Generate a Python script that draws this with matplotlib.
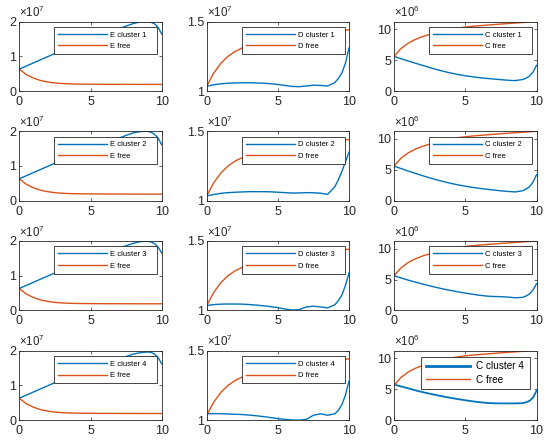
import matplotlib
matplotlib.use('Agg')
import matplotlib.pyplot as plt
from matplotlib.ticker import ScalarFormatter

plt.rcParams['font.family'] = ['Liberation Sans', 'DejaVu Sans']
plt.rcParams['mathtext.fontset'] = 'custom'
plt.rcParams['mathtext.rm'] = 'Liberation Sans'

# time points (same for every panel)
t = [0, 0.5, 1, 1.5, 2, 2.5, 3, 3.5, 4, 4.5, 5, 5.5, 6, 6.5, 7, 7.5, 8, 8.5,
     9, 9.25, 9.5, 9.75, 10]

# E column, x 1e7
e_cluster_1 = [0.63, 0.72, 0.81, 0.90, 0.99, 1.08, 1.16, 1.24, 1.32, 1.40, 1.48, 1.56,
               1.63, 1.71, 1.79, 1.87, 1.94, 1.99, 2.00, 1.98, 1.93, 1.83, 1.64]
e_cluster_2 = [0.63, 0.72, 0.81, 0.90, 0.99, 1.08, 1.16, 1.24, 1.32, 1.40, 1.48, 1.56,
               1.64, 1.72, 1.80, 1.88, 1.95, 1.99, 2.00, 1.97, 1.91, 1.80, 1.61]
e_cluster_3 = [0.63, 0.72, 0.81, 0.90, 0.99, 1.08, 1.16, 1.24, 1.32, 1.40, 1.48, 1.56,
               1.63, 1.71, 1.79, 1.86, 1.93, 1.98, 1.99, 1.97, 1.92, 1.82, 1.65]
e_cluster_4 = [0.63, 0.72, 0.81, 0.90, 0.99, 1.08, 1.16, 1.24, 1.32, 1.40, 1.48, 1.55,
               1.62, 1.69, 1.76, 1.83, 1.90, 1.94, 1.96, 1.95, 1.90, 1.80, 1.62]
e_free = [0.63, 0.47, 0.37, 0.30, 0.26, 0.23, 0.215, 0.205, 0.20, 0.197, 0.195, 0.194,
          0.193, 0.192, 0.192, 0.191, 0.191, 0.19, 0.19, 0.19, 0.19, 0.19, 0.19]

# D column, x 1e7
d_cluster_1 = [1.035, 1.045, 1.052, 1.056, 1.058, 1.059, 1.059, 1.058, 1.056, 1.052, 1.047,
               1.040, 1.033, 1.031, 1.036, 1.042, 1.040, 1.036, 1.060, 1.090, 1.130, 1.200, 1.310]
d_cluster_2 = [1.035, 1.045, 1.053, 1.058, 1.061, 1.063, 1.065, 1.065, 1.065, 1.064, 1.061,
               1.058, 1.055, 1.056, 1.058, 1.057, 1.054, 1.046, 1.100, 1.150, 1.210, 1.280, 1.350]
d_cluster_3 = [1.035, 1.042, 1.045, 1.046, 1.046, 1.045, 1.042, 1.038, 1.033, 1.027, 1.020,
               1.010, 1.003, 1.005, 1.025, 1.030, 1.025, 1.018, 1.040, 1.070, 1.110, 1.180, 1.270]
d_cluster_4 = [1.045, 1.047, 1.046, 1.044, 1.042, 1.040, 1.036, 1.031, 1.025, 1.018, 1.011,
               1.005, 1.001, 1.000, 1.005, 1.035, 1.045, 1.035, 1.045, 1.070, 1.110, 1.180, 1.280]
d_free = [1.035, 1.13, 1.20, 1.25, 1.285, 1.31, 1.33, 1.345, 1.36, 1.37, 1.38, 1.39,
          1.398, 1.405, 1.41, 1.416, 1.421, 1.426, 1.431, 1.433, 1.436, 1.438, 1.44]

# C column, x 1e6
c_cluster_1 = [5.6, 5.22, 4.85, 4.5, 4.15, 3.8, 3.47, 3.17, 2.9, 2.67, 2.47, 2.3,
               2.15, 2.04, 1.94, 1.84, 1.74, 1.68, 1.85, 2.05, 2.4, 3.05, 4.15]
c_cluster_2 = [5.6, 5.2, 4.8, 4.42, 4.05, 3.7, 3.38, 3.08, 2.8, 2.56, 2.35, 2.16,
               2.0, 1.86, 1.73, 1.6, 1.5, 1.42, 1.6, 1.85, 2.25, 3.0, 4.2]
c_cluster_3 = [5.6, 5.25, 4.9, 4.58, 4.27, 3.98, 3.7, 3.45, 3.22, 3.0, 2.8, 2.62,
               2.45, 2.32, 2.25, 2.22, 2.15, 2.05, 2.1, 2.3, 2.65, 3.3, 4.3]
c_cluster_4 = [5.73, 5.42, 5.12, 4.8, 4.51, 4.26, 4.02, 3.78, 3.57, 3.38, 3.2, 3.03,
               2.89, 2.77, 2.71, 2.69, 2.69, 2.7, 2.72, 2.85, 3.09, 3.6, 4.72]
c_free = [5.6, 6.9, 7.75, 8.35, 8.8, 9.15, 9.45, 9.75, 10.0, 10.2, 10.35, 10.47,
          10.57, 10.66, 10.75, 10.84, 10.92, 11.0, 11.08, 11.12, 11.16, 11.2, 11.25]

e_clusters = [e_cluster_1, e_cluster_2, e_cluster_3, e_cluster_4]
d_clusters = [d_cluster_1, d_cluster_2, d_cluster_3, d_cluster_4]
c_clusters = [c_cluster_1, c_cluster_2, c_cluster_3, c_cluster_4]

BLUE = '#0072BD'
ORANGE = '#D95319'
DARK = '0.15'


class MatlabFormatter(ScalarFormatter):
    # plain "%g" labels (1, 1.5) but keep the x10^n offset text
    def _set_format(self):
        self.format = '%g'


fig = plt.figure(figsize=(5.5, 4.45), dpi=100)

# axes boxes in pixels (left, width), rows from the top
col_left = [19.3, 206.7, 394.0]
col_width = [142.4, 142.3, 142.5]
row_top = [21.5, 131.2, 240.9, 350.6]
ax_h = 69.5
W, H = 550.0, 445.0


def style_axes(ax, yticks, power):
    ax.set_xlim(0, 10)
    ax.set_xticks([0, 5, 10])
    ax.set_yticks(yticks)
    fmt = MatlabFormatter(useMathText=True, useOffset=False)
    fmt.set_powerlimits((power, power))
    ax.yaxis.set_major_formatter(fmt)
    ax.yaxis.get_offset_text().set_fontsize(8.3)
    ax.yaxis.get_offset_text().set_color(DARK)
    ax.tick_params(direction='in', top=True, right=True, length=2.2, width=0.5,
                   labelsize=9, colors=DARK)
    ax.tick_params(axis='x', pad=3.5)
    ax.tick_params(axis='y', pad=2.0)
    for s in ax.spines.values():
        s.set_color(DARK)
        s.set_linewidth(0.6)


for r in range(4):
    panels = [
        (e_clusters[r], e_free, 1e7, 'E', [0, 1e7, 2e7], 7, (0, 2e7)),
        (d_clusters[r], d_free, 1e7, 'D', [1e7, 1.5e7], 7, (1e7, 1.5e7)),
        (c_clusters[r], c_free, 1e6, 'C', [0, 5e6, 10e6], 6, (0, 11.25e6)),
    ]
    for c, (clu, free, scale, name, yt, pw, ylim) in enumerate(panels):
        rect = [col_left[c] / W, 1 - (row_top[r] + ax_h) / H, col_width[c] / W, ax_h / H]
        ax = fig.add_axes(rect)
        big = (r == 3 and c == 2)
        ax.plot(t, [v * scale for v in clu], color=BLUE, lw=1.3 if big else 1.0,
                label=f'{name} cluster {r + 1}')
        ax.plot(t, [v * scale for v in free], color=ORANGE, lw=1.0, label=f'{name} free')
        if big:
            ax.set_ylim(2.68e6, 11.2e6)
        else:
            ax.set_ylim(*ylim)
        style_axes(ax, yt, pw)

        if big:
            leg = ax.legend(loc='upper left', bbox_to_anchor=(0.19, 0, 0.765, 0.912),
                            mode='expand', borderaxespad=0, fontsize=7.2,
                            handlelength=4.4, handletextpad=0.6, labelspacing=0.35,
                            borderpad=0.45, fancybox=False, framealpha=1)
            leg.get_lines()[0].set_linewidth(2.0)
        else:
            leg = ax.legend(loc='upper left', bbox_to_anchor=(0.245, 0, 0.725, 0.92),
                            mode='expand', borderaxespad=0, fontsize=5.5,
                            handlelength=6.4, handletextpad=0.4, labelspacing=0.55,
                            borderpad=0.55, fancybox=False, framealpha=1)
        leg.get_frame().set_edgecolor(DARK)
        leg.get_frame().set_linewidth(0.6)

fig.savefig('out.png', dpi=100)
